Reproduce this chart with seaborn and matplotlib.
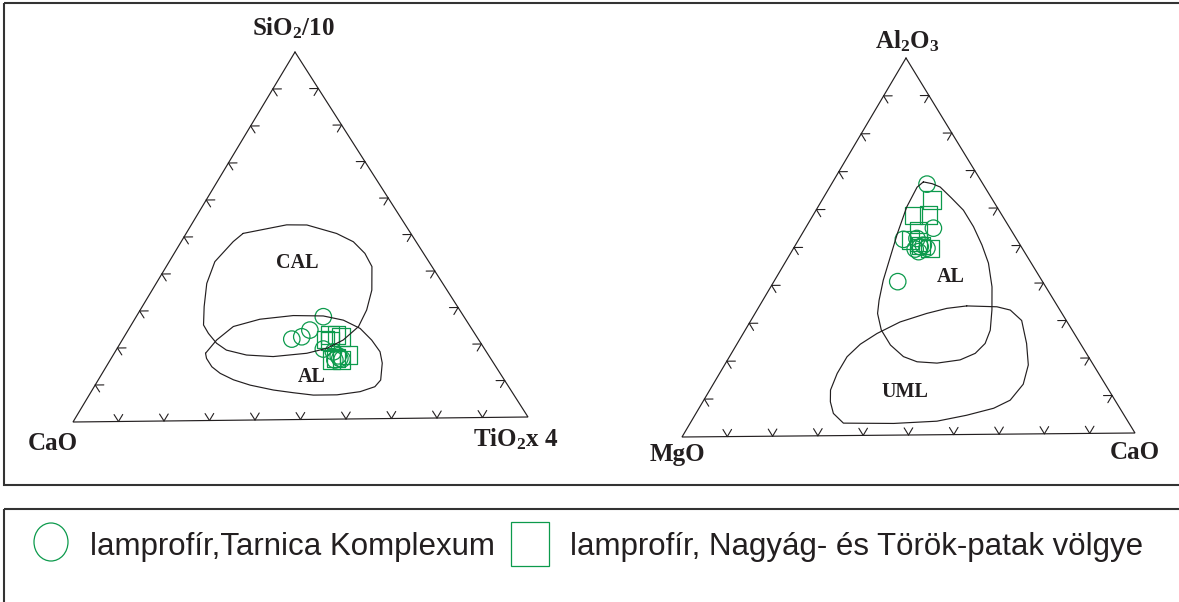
import numpy as np
import pandas as pd
import matplotlib
matplotlib.use("Agg")
import matplotlib.pyplot as plt
import seaborn as sns
from matplotlib.patches import Rectangle, Ellipse

# ---------------------------------------------------------------------------
# Sample compositions (normalised %, each row sums to 100)
# Left diagram: SiO2/10 (top) - CaO (left) - TiO2*4 (right)
# ---------------------------------------------------------------------------
tarnica_sio2_10 = [27.9, 24.3, 22.5, 21.9, 19.1, 18.3, 16.5, 16.1, 17.2, 16.3]
tarnica_cao_l   = [30.7, 35.5, 38.2, 40.7, 35.2, 33.4, 32.9, 34.2, 32.9, 32.5]
tarnica_tio2_4  = [41.4, 40.2, 39.3, 37.4, 45.7, 48.3, 50.6, 49.7, 49.9, 51.2]

nagyag_sio2_10 = [22.9, 22.9, 22.3, 21.6, 21.3, 17.4, 16.1, 16.1, 16.6]
nagyag_cao_l   = [31.8, 30.3, 29.7, 33.5, 32.6, 30.6, 34.9, 32.7, 33.7]
nagyag_tio2_4  = [45.3, 46.8, 48.0, 44.9, 46.1, 52.0, 49.0, 51.2, 49.7]

# Right diagram: Al2O3 (top) - MgO (left) - CaO (right)
tarnica_al2o3 = [66.5, 54.8, 51.9, 52.1, 49.9, 50.3, 48.6, 40.7, 49.5, 49.3]
tarnica_mgo   = [12.3, 16.8, 24.9, 21.8, 22.2, 21.3, 23.2, 31.8, 20.9, 23.6]
tarnica_cao_r = [21.2, 28.4, 23.2, 26.1, 27.9, 28.4, 28.2, 27.5, 29.6, 27.1]

nagyag_al2o3 = [62.3, 58.3, 58.3, 54.3, 51.7, 49.5, 51.2, 50.3]
nagyag_mgo   = [13.3, 19.4, 16.1, 20.4, 23.5, 20.2, 21.9, 21.8]
nagyag_cao_r = [24.4, 22.3, 25.6, 25.3, 24.8, 30.3, 26.9, 27.9]

# ---------------------------------------------------------------------------
# Discrimination field outlines (top and right components, %)
# ---------------------------------------------------------------------------
cal_sio2 = [50.8, 53.0, 52.9, 50.5, 48.2, 45.0, 41.4, 35.0, 29.6, 25.1, 21.5, 19.3,
            18.0, 17.2, 17.7, 19.1, 21.0, 23.7, 26.0, 31.0, 37.3, 43.2, 48.6]
cal_tio2 = [12.6, 21.1, 25.6, 33.3, 38.1, 42.2, 45.5, 48.6, 50.1, 50.5, 48.9, 46.4,
            42.6, 35.6, 29.5, 24.4, 21.3, 18.2, 16.0, 13.7, 11.2, 10.1, 11.5]

al_left_sio2 = [18.3, 21.9, 25.5, 27.4, 28.3, 28.1, 26.9, 24.6, 21.4, 18.2, 15.1, 10.5,
                8.7, 7.4, 6.6, 6.6, 7.3, 8.1, 9.5, 11.0, 12.8, 14.6, 16.9]
al_left_tio2 = [20.2, 20.9, 22.8, 27.7, 34.6, 41.3, 46.3, 51.1, 55.2, 58.6, 60.6, 62.5,
                62.1, 59.5, 54.8, 49.6, 44.9, 40.1, 34.3, 29.9, 26.1, 23.4, 21.1]

al_right_al2o3 = [67.1, 66.6, 65.7, 62.8, 59.5, 55.1, 50.2, 45.4, 39.1, 33.0, 27.6, 24.1, 21.5,
                  19.8, 19.0, 19.4, 20.8, 23.9, 27.9, 32.3, 35.8, 41.1, 47.3, 53.5, 60.5, 65.7]
al_right_cao = [20.1, 22.3, 24.5, 28.4, 32.7, 37.1, 41.4, 45.2, 49.1, 52.1, 54.4, 55.0, 54.1,
                51.6, 46.9, 42.3, 38.6, 34.2, 30.2, 27.2, 25.8, 24.1, 22.6, 21.1, 19.7, 19.4]

uml_al2o3 = [34.1, 33.8, 32.9, 30.1, 24.0, 18.3, 13.2, 9.0, 6.9, 5.1, 3.6, 3.1,
             3.3, 5.9, 9.0, 12.1, 16.5, 20.9, 24.2, 27.0, 30.0, 32.2, 33.5]
uml_cao = [46.0, 52.8, 56.2, 60.1, 64.2, 67.4, 68.8, 68.0, 65.4, 60.3, 54.5, 45.2,
           34.0, 30.5, 28.3, 26.8, 26.1, 26.1, 27.4, 29.7, 33.3, 38.1, 41.9]

series_labels = ["lamprofír,Tarnica Komplexum",
                 "lamprofír, Nagyág- és Török-patak völgye"]

# ---------------------------------------------------------------------------
# Styling
# ---------------------------------------------------------------------------
sns.set_theme(style="white")
plt.rcParams["font.family"] = ["Liberation Serif", "DejaVu Sans"]
plt.rcParams["mathtext.fontset"] = "custom"
plt.rcParams["mathtext.rm"] = "Liberation Serif:bold"
plt.rcParams["mathtext.it"] = "Liberation Serif:bold"
plt.rcParams["mathtext.bf"] = "Liberation Serif:bold"

INK = "#231f20"
GREEN = "#0c9a4c"
W, H = 1179, 602

fig = plt.figure(figsize=(W / 100, H / 100), dpi=100)
ax = fig.add_axes([0, 0, 1, 1])
ax.set_xlim(0, W)
ax.set_ylim(H, 0)
ax.axis("off")

# triangle corners on the canvas: top, left, right
tri_left = {"top": (295, 52), "left": (73, 422), "right": (528, 417)}
tri_right = {"top": (906, 58), "left": (682, 437), "right": (1135, 433)}


def tern(tri, top, left, right):
    t = np.asarray(top, float)
    l = np.asarray(left, float)
    r = np.asarray(right, float)
    s = t + l + r
    t, l, r = t / s, l / s, r / s
    A, B, C = (np.array(tri[k], float) for k in ("top", "left", "right"))
    return t * A[0] + l * B[0] + r * C[0], t * A[1] + l * B[1] + r * C[1]


def draw_triangle(tri):
    A, B, C = (np.array(tri[k], float) for k in ("top", "left", "right"))
    ax.plot([A[0], B[0], C[0], A[0]], [A[1], B[1], C[1], A[1]],
            color=INK, lw=0.85, solid_joinstyle="miter")
    stub = 0.019
    for X, Y, Z in ((B, A, C), (A, C, B), (C, B, A)):
        for k in range(1, 10):
            P = X + (Y - X) * k / 10
            for D in (Z - X, Z - Y):
                Q = P + D * stub
                ax.plot([P[0], Q[0]], [P[1], Q[1]], color=INK, lw=0.8)


def draw_field(tri, top, right):
    top = np.asarray(top, float)
    right = np.asarray(right, float)
    left = 100 - top - right
    x, y = tern(tri, top, left, right)
    ax.plot(np.append(x, x[0]), np.append(y, y[0]), color=INK, lw=0.85)


draw_triangle(tri_left)
draw_triangle(tri_right)

draw_field(tri_left, cal_sio2, cal_tio2)
draw_field(tri_left, al_left_sio2, al_left_tio2)
draw_field(tri_right, al_right_al2o3, al_right_cao)
draw_field(tri_right, uml_al2o3, uml_cao)

# sample points
frames = []
for tri, top, left, right, grp in (
    (tri_left, tarnica_sio2_10, tarnica_cao_l, tarnica_tio2_4, "circle"),
    (tri_left, nagyag_sio2_10, nagyag_cao_l, nagyag_tio2_4, "square"),
    (tri_right, tarnica_al2o3, tarnica_mgo, tarnica_cao_r, "circle"),
    (tri_right, nagyag_al2o3, nagyag_mgo, nagyag_cao_r, "square"),
):
    x, y = tern(tri, top, left, right)
    frames.append(pd.DataFrame({"x": x, "y": y, "group": grp}))
pts = pd.concat(frames, ignore_index=True)

sns.scatterplot(data=pts[pts.group == "circle"], x="x", y="y", marker="o", s=140,
                facecolor="none", edgecolor=GREEN, linewidth=0.9, legend=False, ax=ax)
sns.scatterplot(data=pts[pts.group == "square"], x="x", y="y", marker="s", s=155,
                facecolor="none", edgecolor=GREEN, linewidth=0.9, legend=False, ax=ax)
ax.set_xlim(0, W)
ax.set_ylim(H, 0)
ax.axis("off")

# apex labels
lab = dict(fontsize=18, fontweight="bold", color=INK, family="Liberation Serif")
ax.text(293, 35, r"SiO$_2$/10", ha="center", va="baseline", **lab)
ax.text(28, 450, "CaO", ha="left", va="baseline", **lab)
ax.text(473, 446, r"TiO$_2$x 4", ha="left", va="baseline", **lab)
ax.text(907, 48, r"Al$_2$O$_3$", ha="center", va="baseline", **lab)
ax.text(650, 461, "MgO", ha="left", va="baseline", **lab)
ax.text(1110, 459, "CaO", ha="left", va="baseline", **lab)

# field labels
flab = dict(fontsize=14.5, fontweight="bold", color=INK, family="Liberation Serif",
            ha="center", va="center")
ax.text(297, 263, "CAL", **flab)
ax.text(312, 377, "AL", **flab)
ax.text(951, 277, "AL", **flab)
ax.text(905, 392, "UML", **flab)

# panel frames
ax.add_patch(Rectangle((4, 3), 1250, 482, fill=False, ec="#333333", lw=1.5))
ax.add_patch(Rectangle((4, 509), 1250, 200, fill=False, ec="#333333", lw=1.5))

# key
ax.add_patch(Ellipse((51, 542), 34, 38, fill=False, ec=GREEN, lw=0.9))
ax.add_patch(Rectangle((511, 522), 38, 44, fill=False, ec=GREEN, lw=0.9))
key = dict(fontsize=22.5, color=INK, family="Liberation Sans", va="baseline", ha="left")
ax.text(90, 555, series_labels[0], **key)
ax.text(570, 555, series_labels[1], **key)

fig.savefig("out.png", dpi=100)
